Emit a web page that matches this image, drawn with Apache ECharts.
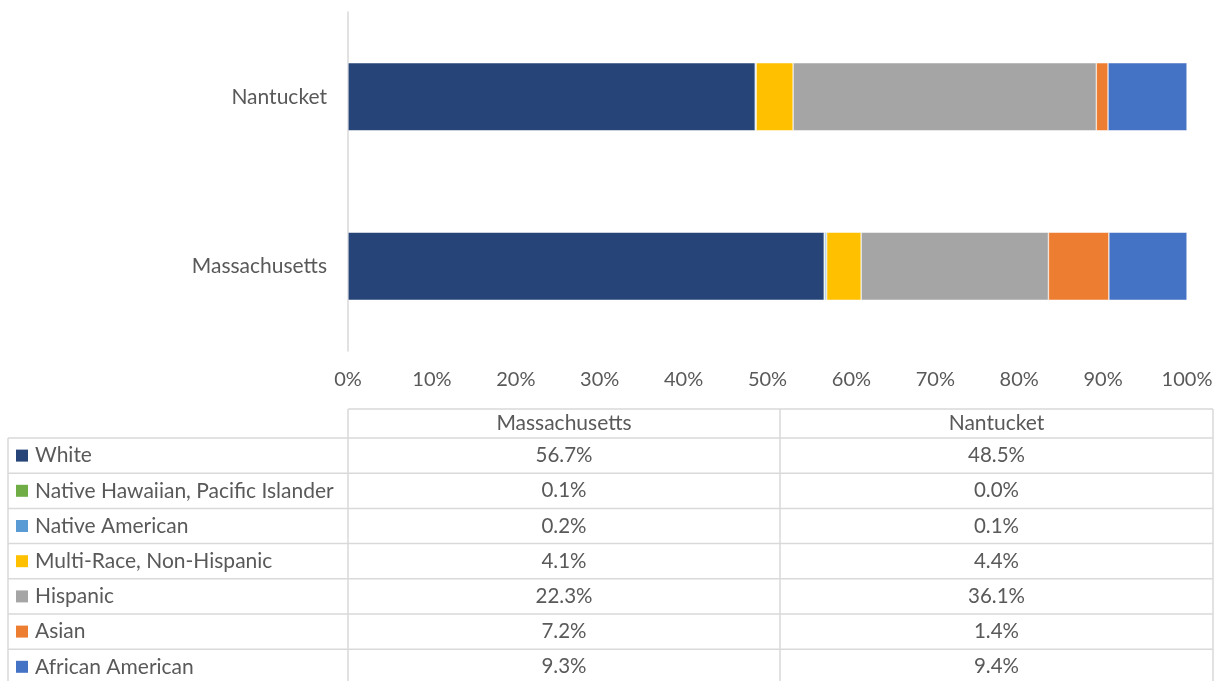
<!DOCTYPE html>
<html>
<head>
<meta charset="utf-8">
<title>Race and ethnicity</title>
<script src="https://cdn.jsdelivr.net/npm/echarts@6/dist/echarts.min.js"></script>
<style>
html, body { margin: 0; padding: 0; background: #fff; }
#chart { width: 1224px; height: 681px; }
</style>
</head>
<body>
<div id="chart"></div>
<script>
// data
var places = ['Massachusetts', 'Nantucket'];
var groups = ['White', 'Native Hawaiian, Pacific Islander', 'Native American',
  'Multi-Race, Non-Hispanic', 'Hispanic', 'Asian', 'African American'];
var massachusetts = [56.7, 0.1, 0.2, 4.1, 22.3, 7.2, 9.3];
var nantucket = [48.5, 0.0, 0.1, 4.4, 36.1, 1.4, 9.4];
var colors = ['#264478', '#70ad47', '#5b9bd5', '#ffc000', '#a5a5a5', '#ed7d31', '#4472c4'];

var font = 'Lato';
var textColor = '#595959';
var lineColor = '#d9d9d9';

// 100% stacked: share of each column total
function sum(a) { return a.reduce(function (s, v) { return s + v; }, 0); }
var maTotal = sum(massachusetts), naTotal = sum(nantucket);

var series = groups.map(function (g, i) {
  return {
    name: g,
    type: 'bar',
    stack: 'all',
    barWidth: 68,
    itemStyle: { color: colors[i], borderColor: '#fff', borderWidth: 0.5 },
    data: [massachusetts[i] / maTotal * 100, nantucket[i] / naTotal * 100]
  };
});

// data table below the axis
var tLeft = 8, c1 = 348, c2 = 780, tRight = 1213;
var headTop = 409, rowTop = 438, rowH = 35.2;
var graphic = [];
function line(x1, y1, x2, y2) {
  graphic.push({ type: 'line', shape: { x1: x1, y1: y1, x2: x2, y2: y2 },
    style: { stroke: lineColor, lineWidth: 1.5 }, silent: true });
}
function txt(x, y, s, align, size) {
  graphic.push({ type: 'text', x: x, y: y,
    style: { text: s, fill: textColor, font: size + 'px ' + font, align: align, verticalAlign: 'middle' } });
}
var bottom = rowTop + rowH * groups.length;
line(c1, headTop, tRight, headTop);
line(tLeft, rowTop, tRight, rowTop);
for (var r = 1; r <= groups.length; r++) line(tLeft, rowTop + rowH * r, tRight, rowTop + rowH * r);
line(tLeft, rowTop, tLeft, bottom);
line(c1, headTop, c1, bottom);
line(c2, headTop, c2, bottom);
line(tRight, headTop, tRight, bottom);
txt((c1 + c2) / 2, headTop + 14.5, places[0], 'center', 21);
txt((c2 + tRight) / 2, headTop + 14.5, places[1], 'center', 21);
groups.forEach(function (g, i) {
  var cy = rowTop + rowH * i + rowH / 2;
  graphic.push({ type: 'rect', shape: { x: 16, y: cy - 6, width: 12, height: 12 },
    style: { fill: colors[i] }, silent: true });
  txt(35, cy, g, 'left', 21);
  txt((c1 + c2) / 2, cy, massachusetts[i].toFixed(1) + '%', 'center', 20.5);
  txt((c2 + tRight) / 2, cy, nantucket[i].toFixed(1) + '%', 'center', 20.5);
});

var chart = echarts.init(document.getElementById('chart'));
chart.setOption({
  animation: false,
  textStyle: { fontFamily: font },
  grid: { left: 348, right: 37, top: 12, bottom: 330 },
  xAxis: {
    type: 'value',
    min: 0,
    max: 100,
    interval: 10,
    axisLine: { show: false },
    axisTick: { show: false },
    splitLine: { show: false },
    axisLabel: { formatter: '{value}%', color: textColor, fontSize: 20, margin: 19 }
  },
  yAxis: {
    type: 'category',
    data: places,
    axisLine: { show: true, lineStyle: { color: lineColor, width: 1.5 } },
    axisTick: { show: false },
    axisLabel: { color: textColor, fontSize: 21, margin: 21 }
  },
  series: series,
  graphic: graphic
});
</script>
</body>
</html>
